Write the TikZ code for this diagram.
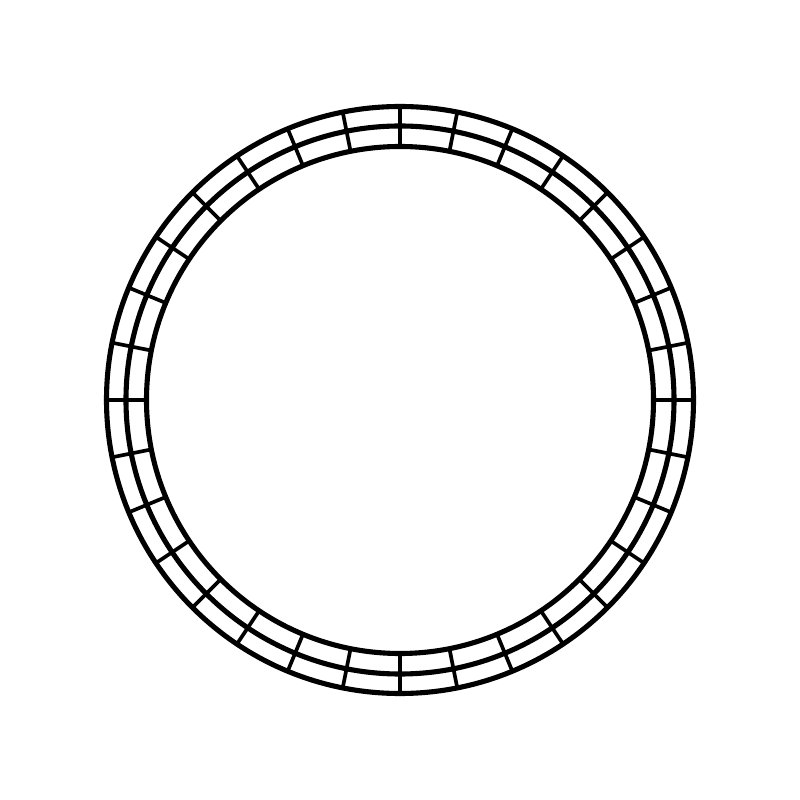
\documentclass[tikz,border=0pt]{standalone}
\begin{document}
\begin{tikzpicture}
\tikzset{ring/.style={line width=1.45pt,black},spoke/.style={line width=1.05pt,black}}
\useasboundingbox[fill=white] (-4,-4) rectangle (4,4);
\coordinate (c) at (0,0);
\foreach \i in {0,...,31}{
  \draw[spoke] (c) ++({\i*11.25}:2.535) -- ++({\i*11.25}:0.4);
}
\draw[ring] (c) circle (2.935);
\draw[ring] (c) circle (2.74);
\draw[ring] (c) circle (2.535);
\end{tikzpicture}
\end{document}
